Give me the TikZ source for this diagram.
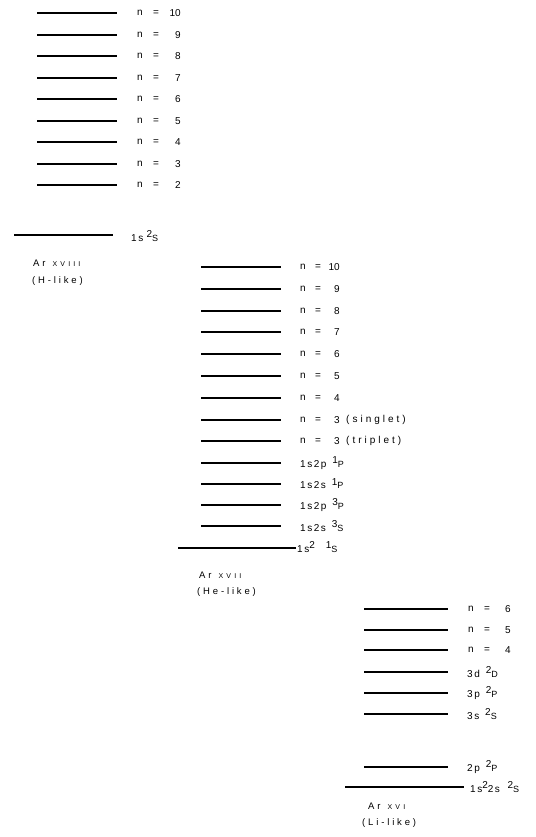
\documentclass[tikz,border=0pt]{standalone}
\usepackage{fontspec}
\setmainfont{Liberation Sans}
\usepackage{tikz}
\usetikzlibrary{positioning}
\newcommand{\tsup}[1]{\raisebox{3.2pt}{#1}}
\newcommand{\tlet}[1]{{\small #1}}
\newcommand{\ionnum}[1]{{\scriptsize\addfontfeature{LetterSpace=45}#1}}

\begin{document}
\begin{tikzpicture}[x=1pt, y=-1pt]
        \tikzset{
          level/.style={draw=black, line width=1.3pt},
          lbl/.style={anchor=west, inner sep=0pt, font=\fontsize{10}{12}\selectfont\addfontfeature{LetterSpace=15}},
          num/.style={anchor=east, inner sep=0pt, font=\fontsize{10}{12}\selectfont},
          ion/.style={anchor=west, inner sep=0pt, font=\fontsize{9.5}{11}\selectfont\addfontfeature{LetterSpace=30}}
        }
        \useasboundingbox (0,0) rectangle (535,837);
        % Ar XVIII (H-like)
        \foreach \n [count=\i from 0] in {10,9,...,2} {
          \pgfmathsetmacro{\yy}{round(13+\i*21.5)}
          \coordinate (HL\n) at (37,\yy);
          \coordinate (HR\n) at (117,\yy);
          \draw[level] (HL\n) -- (HR\n);
          \node[lbl] (Hn\n) at (137,\yy) {n};
          \node[lbl] (He\n) at (153,\yy) {=};
          \node[num] (Hv\n) at (181,\yy) {\n};
        }
        \coordinate (HL1) at (14,235);
        \coordinate (HR1) at (113,235);
        \draw[level] (HL1) -- (HR1);
        \node[lbl] (Hg) at (131,236) {1s\,\,\tsup{2}\tlet{S}};
        \node[ion] (Hion) at (33,263) {Ar\, \ionnum{XVIII}};
        \node[ion] (Hlike) at (32,281) {(H-like)};
        % Ar XVII (He-like)
        \foreach \n [count=\i from 0] in {10,9,...,4} {
          \pgfmathsetmacro{\yy}{round(267+\i*21.8)}
          \coordinate (EL\n) at (201,\yy);
          \coordinate (ER\n) at (281,\yy);
          \draw[level] (EL\n) -- (ER\n);
          \node[lbl] (En\n) at (300,\yy) {n};
          \node[lbl] (Ee\n) at (315,\yy) {=};
          \node[num] (Ev\n) at (340,\yy) {\n};
        }
        \foreach \s/\yy in {singlet/420,triplet/441} {
          \coordinate (EL\s) at (201,\yy);
          \coordinate (ER\s) at (281,\yy);
          \draw[level] (EL\s) -- (ER\s);
          \node[lbl] (En\s) at (300,\yy) {n};
          \node[lbl] (Ee\s) at (315,\yy) {=};
          \node[num] (Ev\s) at (340,\yy) {3};
          \node[lbl, font=\fontsize{10}{12}\selectfont\addfontfeature{LetterSpace=30}] (Et\s) at (346,\yy) {(\s)};
        }
        \foreach \k/\lab/\yy in {a/{1s2p\, \tsup{1}\tlet{P}}/463, b/{1s2s\, \tsup{1}\tlet{P}}/484,
                                 c/{1s2p\, \tsup{3}\tlet{P}}/505, d/{1s2s\, \tsup{3}\tlet{S}}/526} {
          \coordinate (EL\k) at (201,\yy);
          \coordinate (ER\k) at (281,\yy);
          \draw[level] (EL\k) -- (ER\k);
          \node[lbl] (Et\k) at (300,\yy) {\lab};
        }
        \coordinate (ELg) at (178,548);
        \coordinate (ERg) at (296,548);
        \draw[level] (ELg) -- (ERg);
        \node[lbl] (Etg) at (297,547) {1s\tsup{2}\,\,\,\, \tsup{1}\tlet{S}};
        \node[ion] (Eion) at (199,575) {Ar\, \ionnum{XVII}};
        \node[ion] (Elike) at (197,592) {(He-like)};
        % Ar XVI (Li-like)
        \foreach \n [count=\i from 0] in {6,5,4} {
          \pgfmathsetmacro{\yy}{round(609+\i*20.5)}
          \coordinate (LL\n) at (364,\yy);
          \coordinate (LR\n) at (448,\yy);
          \draw[level] (LL\n) -- (LR\n);
          \node[lbl] (Ln\n) at (468,\yy) {n};
          \node[lbl] (Le\n) at (484,\yy) {=};
          \node[num] (Lv\n) at (511,\yy) {\n};
        }
        \foreach \k/\lab/\yy in {d/{3d\, \tsup{2}\tlet{D}}/672, p/{3p\, \tsup{2}\tlet{P}}/693,
                                 s/{3s\, \tsup{2}\tlet{S}}/714, q/{2p\, \tsup{2}\tlet{P}}/767} {
          \coordinate (LL\k) at (364,\yy);
          \coordinate (LR\k) at (448,\yy);
          \draw[level] (LL\k) -- (LR\k);
          \node[lbl] (Lt\k) at (467,\yy) {\lab};
        }
        \coordinate (LLg) at (345,787);
        \coordinate (LRg) at (464,787);
        \draw[level] (LLg) -- (LRg);
        \node[lbl] (Ltg) at (470,787) {1s\tsup{2}2s\,\, \tsup{2}\tlet{S}};
        \node[ion] (Lion) at (368,806) {Ar\, \ionnum{XVI}};
        \node[ion] (Llike) at (362,823) {(Li-like)};
      \end{tikzpicture}
\end{document}
